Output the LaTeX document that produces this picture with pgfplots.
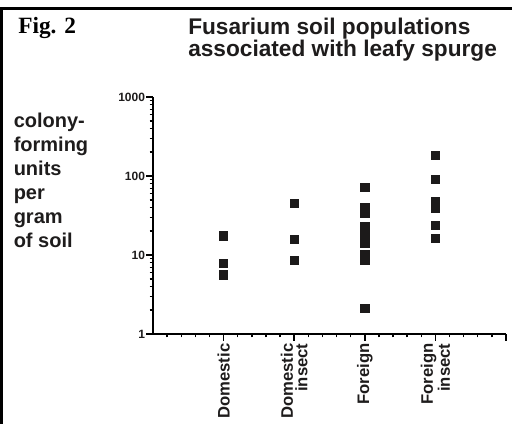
\documentclass[border=0pt]{standalone}
\usepackage{pgfplots}
\pgfplotsset{compat=1.18}
\usepackage{fontspec}
\setmainfont{Liberation Sans}
\newfontfamily\arialb{Liberation Sans Bold}
\newfontfamily\timesb{Liberation Serif Bold}
\definecolor{mk}{HTML}{1C1A1A}
\definecolor{tx}{HTML}{1E1C1C}
\begin{document}
\begin{tikzpicture}[x=0.75pt,y=0.75pt]
\clip (0,0) rectangle (512,424);
\draw[line width=2.4pt] (1.8,-20) -- (1.8,424-8.7) -- (540,424-8.7);
% Fig label
\node[anchor=base west,inner sep=0,font=\timesb\fontsize{17.5}{19}\selectfont] at (18,424-34) {Fig. 2};
% title
\node[anchor=base west,inner sep=0,text=tx,font=\arialb\fontsize{17}{19}\selectfont] at (188,424-35) {Fusarium soil populations};
\node[anchor=base west,inner sep=0,text=tx,font=\arialb\fontsize{17}{19}\selectfont] at (188,424-57) {associated with leafy spurge};
% y label
\foreach \t [count=\i from 0] in {colony-,forming,units,per,gram,of soil}{
  \node[anchor=base west,inner sep=0,text=tx,font=\arialb\fontsize{15}{17}\selectfont] at (13.5,424-128-24*\i) {\t};
}
\begin{axis}[
  at={(114.75pt,67.5pt)}, anchor=south west,
  scale only axis, width=264.75pt, height=177.75pt,
  xmin=0, xmax=5, ymode=log, ymin=1, ymax=1000,
  axis x line=bottom, axis y line=left,
  axis line style={-, line width=1.6pt, black},
  xtick={1,2,3,4,5},
  xticklabels={Domestic,{Domestic\\insect},Foreign,{Foreign\\insect},{}},
  minor xtick={0.2,0.4,0.6,0.8,1.2,1.4,1.6,1.8,2.2,2.4,2.6,2.8,3.2,3.4,3.6,3.8,4.2,4.4,4.6,4.8},
  ytick={1,10,100,1000},
  yticklabels={1,10,100,1000},
  minor ytick={2,3,4,5,6,7,8,9,20,30,40,50,60,70,80,90,200,300,400,500,600,700,800,900},
  tick align=outside,
  major tick length=5pt, minor tick length=2.6pt,
  tick style={black, line width=1.1pt},
  minor tick style={black, line width=1.1pt},
  x tick label style={rotate=90, anchor=east, align=right, text=tx, inner sep=2pt,
    font=\arialb\fontsize{12.5}{11}\selectfont},
  y tick label style={text=tx, xshift=2.5pt, font=\arialb\fontsize{9}{10}\selectfont},
  clip=false,
]
\addplot[only marks, mark=square*, mark size=3.1pt, mark options={fill=mk, draw=mk}] coordinates {
  (1,17.5) (1,7.8) (1,5.6)
  (2,45) (2,15.8) (2,8.6)
  (3,72) (3,40) (3,34) (3,23) (3,19) (3,15.8) (3,14) (3,10.3) (3,8.6) (3,2.1)
  (4,182) (4,90) (4,48) (4,39) (4,24) (4,16.2)
};
\end{axis}
\end{tikzpicture}
\end{document}
